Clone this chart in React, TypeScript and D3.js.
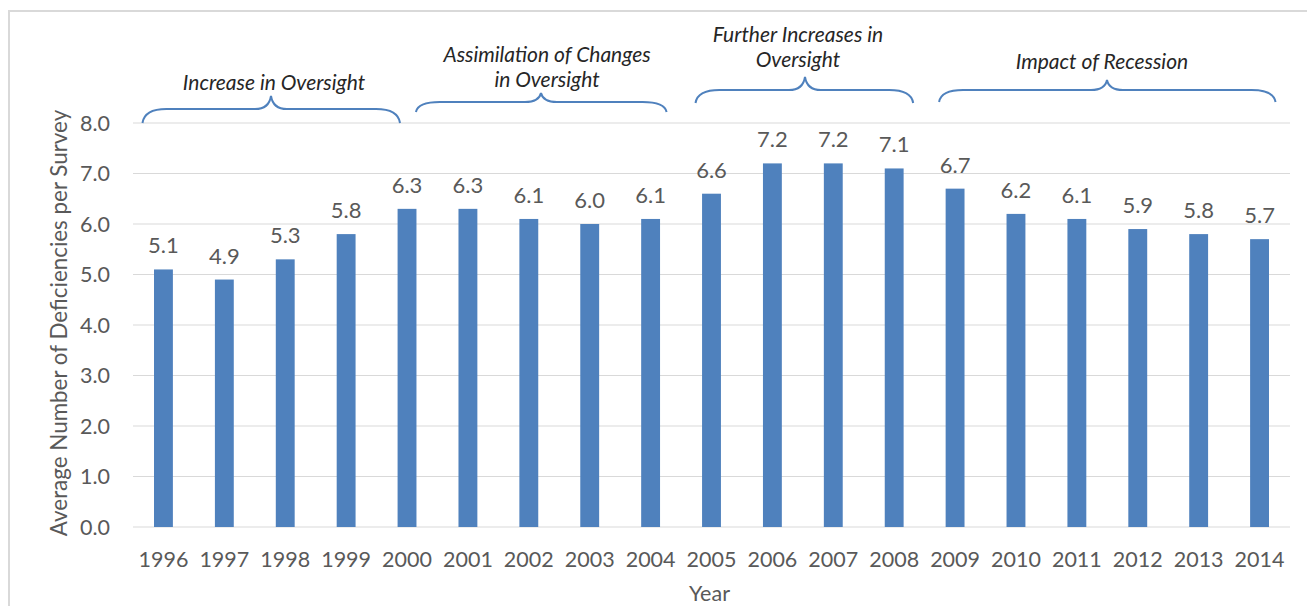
import React, {useEffect, useRef} from 'react';
import * as d3 from 'd3';

// values
const years = ['1996', '1997', '1998', '1999', '2000', '2001', '2002', '2003', '2004', '2005', '2006', '2007', '2008', '2009', '2010', '2011', '2012', '2013', '2014'];
const deficiencies = [5.1, 4.9, 5.3, 5.8, 6.3, 6.3, 6.1, 6.0, 6.1, 6.6, 7.2, 7.2, 7.1, 6.7, 6.2, 6.1, 5.9, 5.8, 5.7];
const yTicks = [0, 1, 2, 3, 4, 5, 6, 7, 8];

// period annotations (first year, last year, text lines)
const periodStart = ['1996', '2001', '2005', '2009'];
const periodEnd = ['2000', '2004', '2008', '2014'];
const periodLabels = [
  ['Increase in Oversight'],
  ['Assimilation of Changes', 'in Oversight'],
  ['Further Increases in', 'Oversight'],
  ['Impact of Recession'],
];

const W = 1307;
const H = 606;
const margin = {top: 123, right: 17, bottom: 79, left: 133};
const FONT = 'Lato, "Open Sans", sans-serif';
const BLUE = '#4f81bd';
const GREY = '#595959';

// brace layout (pixel tweaks, not data)
const braceLayout = [
  {dx0: -21, dx1: -7, yEnd: 123, yFlat: 109, yPeak: 96, peakX: 271},
  {dx0: -52, dx1: 16, yEnd: 112, yFlat: 102, yPeak: 93, peakX: 541},
  {dx0: -16, dx1: 19, yEnd: 103, yFlat: 90, yPeak: 77, peakX: 805},
  {dx0: -16, dx1: 16, yEnd: 102, yFlat: 90, yPeak: 80, peakX: 1107},
];
const labelLayout = [
  {x: 274, y: [90]},
  {x: 547, y: [62, 87]},
  {x: 798, y: [42, 67]},
  {x: 1102, y: [69]},
];

export default function App() {
  const svgRef = useRef<SVGSVGElement>(null);

  useEffect(() => {
    const svg = d3.select(svgRef.current);
    svg.selectAll('*').remove();

    const innerW = W - margin.left - margin.right;
    const innerH = H - margin.top - margin.bottom;

    const x = d3.scaleBand().domain(years).range([0, innerW]).paddingInner(0.69).paddingOuter(0.345);
    const y = d3.scaleLinear().domain([0, 8]).range([innerH, 0]);

    // chart border
    svg.append('rect')
      .attr('x', 9).attr('y', 11)
      .attr('width', W + 20).attr('height', H + 20)
      .attr('fill', 'white')
      .attr('stroke', '#d9d9d9')
      .attr('stroke-width', 2);

    const g = svg.append('g').attr('transform', `translate(${margin.left},${margin.top})`);

    // gridlines
    g.selectAll('line.grid')
      .data(yTicks)
      .enter()
      .append('line')
      .attr('class', 'grid')
      .attr('x1', 0).attr('x2', innerW)
      .attr('y1', (d) => y(d)).attr('y2', (d) => y(d))
      .attr('stroke', '#d9d9d9')
      .attr('stroke-width', 1);

    // y tick labels
    g.selectAll('text.ytick')
      .data(yTicks)
      .enter()
      .append('text')
      .attr('class', 'ytick')
      .attr('x', -23)
      .attr('y', (d) => y(d))
      .attr('dy', '0.35em')
      .attr('text-anchor', 'end')
      .attr('font-family', FONT)
      .attr('font-size', 21.5)
      .attr('fill', GREY)
      .text((d) => d3.format('.1f')(d));

    // bars
    g.selectAll('rect.bar')
      .data(deficiencies)
      .enter()
      .append('rect')
      .attr('class', 'bar')
      .attr('x', (d, i) => x(years[i]))
      .attr('y', (d) => y(d))
      .attr('width', x.bandwidth())
      .attr('height', (d) => innerH - y(d))
      .attr('fill', BLUE);

    // value labels
    g.selectAll('text.value')
      .data(deficiencies)
      .enter()
      .append('text')
      .attr('class', 'value')
      .attr('x', (d, i) => x(years[i]) + x.bandwidth() / 2)
      .attr('y', (d) => y(d) - 16)
      .attr('text-anchor', 'middle')
      .attr('font-family', FONT)
      .attr('font-size', 22)
      .attr('fill', GREY)
      .text((d) => d3.format('.1f')(d));

    // x tick labels
    g.selectAll('text.xtick')
      .data(years)
      .enter()
      .append('text')
      .attr('class', 'xtick')
      .attr('x', (d) => x(d) + x.bandwidth() / 2)
      .attr('y', innerH + 40)
      .attr('text-anchor', 'middle')
      .attr('font-family', FONT)
      .attr('font-size', 21.5)
      .attr('fill', GREY)
      .text((d) => d);

    // axis titles
    svg.append('text')
      .attr('x', margin.left + innerW / 2 - 2)
      .attr('y', 601)
      .attr('text-anchor', 'middle')
      .attr('font-family', FONT)
      .attr('font-size', 21.5)
      .attr('fill', GREY)
      .text('Year');

    svg.append('text')
      .attr('transform', 'translate(67,323) rotate(-90)')
      .attr('text-anchor', 'middle')
      .attr('font-family', FONT)
      .attr('font-size', 22.4)
      .attr('fill', GREY)
      .text('Average Number of Deficiencies per Survey');

    // braces
    periodStart.forEach((s, i) => {
      const L = braceLayout[i];
      const x0 = margin.left + x(s) + x.bandwidth() / 2 + L.dx0;
      const x1 = margin.left + x(periodEnd[i]) + x.bandwidth() / 2 + L.dx1;
      const xm = L.peakX;
      const r = 24;
      const r2 = 16;
      const p = d3.path();
      p.moveTo(x0, L.yEnd);
      p.quadraticCurveTo(x0 + 2, L.yFlat, x0 + r, L.yFlat);
      p.lineTo(xm - r2, L.yFlat);
      p.quadraticCurveTo(xm - 2, L.yFlat, xm, L.yPeak);
      p.quadraticCurveTo(xm + 2, L.yFlat, xm + r2, L.yFlat);
      p.lineTo(x1 - r, L.yFlat);
      p.quadraticCurveTo(x1 - 2, L.yFlat, x1, L.yEnd);
      svg.append('path')
        .attr('d', p.toString())
        .attr('fill', 'none')
        .attr('stroke', BLUE)
        .attr('stroke-width', 2);

      periodLabels[i].forEach((line, j) => {
        svg.append('text')
          .attr('x', labelLayout[i].x)
          .attr('y', labelLayout[i].y[j])
          .attr('text-anchor', 'middle')
          .attr('font-family', FONT)
          .attr('font-style', 'italic')
          .attr('font-size', 21)
          .attr('fill', '#262626')
          .text(line);
      });
    });
  }, []);

  return (
    <svg
      ref={svgRef}
      width={W}
      height={H}
      style={{position: 'absolute', left: 0, top: 0, background: 'white'}}
    />
  );
}
